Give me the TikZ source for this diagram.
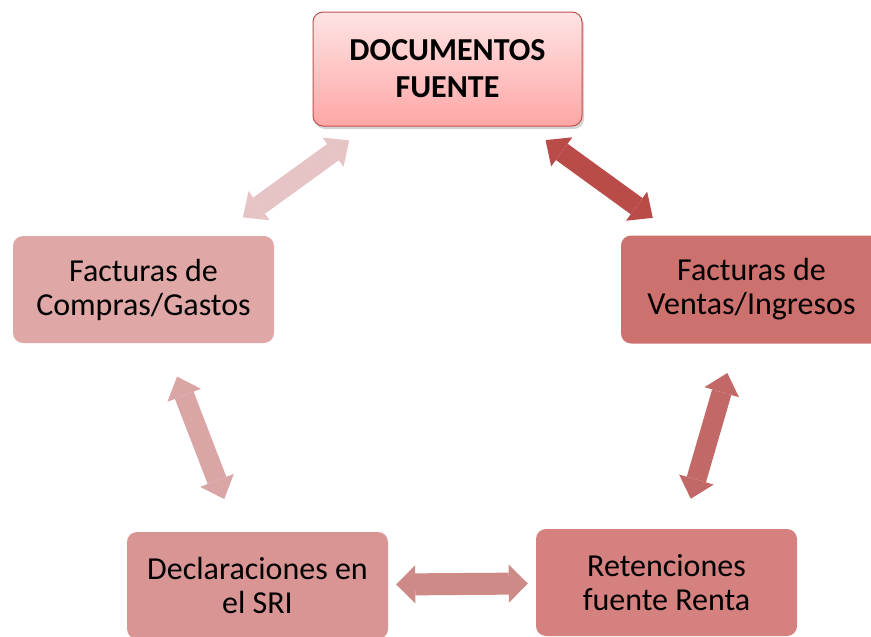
\documentclass[tikz,border=0pt]{standalone}
\usepackage{fontspec}
\setmainfont{Carlito}
\usepackage{tikz}
\usetikzlibrary{arrows.meta}
\usetikzlibrary{shadows}
\usepackage{xcolor}
\definecolor{fuentetop}{RGB}{255,228,228}
\definecolor{fuentebot}{RGB}{255,166,166}
\definecolor{fuenteline}{RGB}{192,80,77}
\definecolor{comprasfill}{RGB}{224,167,167}
\definecolor{ventasfill}{RGB}{204,113,110}
\definecolor{declfill}{RGB}{217,149,148}
\definecolor{retfill}{RGB}{212,129,127}
\definecolor{arrowA}{RGB}{230,195,196}
\definecolor{arrowB}{RGB}{185,75,73}
\definecolor{arrowC}{RGB}{194,105,103}
\definecolor{arrowD}{RGB}{217,165,165}
\definecolor{arrowE}{RGB}{205,138,135}

\begin{document}
\begin{tikzpicture}[x=1pt,y=-1pt,
  box/.style={rounded corners=10pt, minimum width=261pt, minimum height=107pt,
    inner sep=0pt, align=center, font=\fontsize{32}{34}\selectfont},
  dblarrow/.style={line width=20pt,
    {Triangle[length=20pt,width=36pt,line width=0pt]}-{Triangle[length=20pt,width=36pt,line width=0pt]}}]
  \useasboundingbox (0,0) rectangle (871,637);

  % cuadros
  \node[box, draw=fuenteline, line width=1pt, top color=fuentetop, bottom color=fuentebot,
    drop shadow={opacity=0.35, shadow xshift=2pt, shadow yshift=-3pt},
    minimum width=269pt, minimum height=114pt,
    font=\bfseries\fontsize{32}{37}\selectfont] (fuente) at (447.5,69) {DOCUMENTOS\\FUENTE};
  \node[box, fill=comprasfill] (compras) at (143.5,289.5) {Facturas de\\Compras/Gastos};
  \node[box, fill=ventasfill, minimum height=108pt] (ventas) at (751.5,289.5) {Facturas de\\Ventas/Ingresos};
  \node[box, fill=declfill] (decl) at (257.5,585.5) {Declaraciones en\\el SRI};
  \node[box, fill=retfill] (ret) at (666.5,582.5) {Retenciones\\fuente Renta};

  % flechas
  \draw[dblarrow, arrowA, shorten <=23.7pt, shorten >=31.4pt] (fuente) -- (compras);
  \draw[dblarrow, arrowB, shorten <=23.2pt, shorten >=29.7pt] (fuente) -- (ventas);
  \draw[dblarrow, arrowC, shorten <=30.5pt, shorten >=31.3pt] (ventas) -- (ret);
  \draw[dblarrow, arrowD, shorten <=35.8pt, shorten >=35.1pt] (compras) -- (decl);
  \draw[dblarrow, arrowE, line width=22pt,
    {Triangle[length=19pt,width=38pt,line width=0pt]}-{Triangle[length=19pt,width=38pt,line width=0pt]},
    shorten <=8pt, shorten >=8pt] (decl) -- (ret);
\end{tikzpicture}
\end{document}
